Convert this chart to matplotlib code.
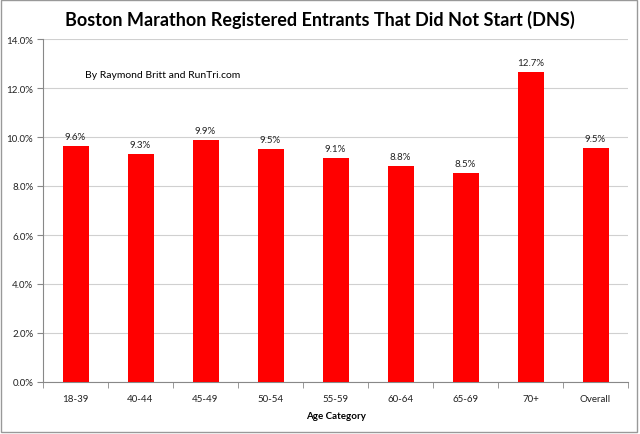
import matplotlib
matplotlib.use("Agg")
import matplotlib.pyplot as plt
from matplotlib.ticker import FuncFormatter, MultipleLocator, FixedLocator
from matplotlib.patches import Rectangle

categories = ["18-39", "40-44", "45-49", "50-54", "55-59", "60-64", "65-69", "70+", "Overall"]
values = [9.63, 9.31, 9.88, 9.51, 9.13, 8.83, 8.53, 12.66, 9.55]
labels = ["9.6%", "9.3%", "9.9%", "9.5%", "9.1%", "8.8%", "8.5%", "12.7%", "9.5%"]

plt.rcParams['font.family'] = ['Lato', 'DejaVu Sans']

fig = plt.figure(figsize=(6.4, 4.35), dpi=100)
ax = fig.add_axes([43/640, 1-383/435, (628-43)/640, (383-40)/435])

x = list(range(len(categories)))
ax.bar(x, values, width=0.4, color="#FF0000", zorder=3)
for xi, v, lab in zip(x, values, labels):
    ax.text(xi, v + 0.2, lab, ha="center", va="bottom", fontsize=7, color="#222222")

ax.set_xlim(-0.5, len(categories) - 0.5)
ax.set_ylim(0, 14)
ax.yaxis.set_major_locator(MultipleLocator(2))
ax.yaxis.set_major_formatter(FuncFormatter(lambda v, p: f"{v:.1f}%"))
ax.set_xticks(x)
ax.set_xticklabels(categories)
ax.xaxis.set_minor_locator(FixedLocator([i - 0.5 for i in range(len(categories) + 1)]))
ax.tick_params(axis="x", which="major", length=0, labelsize=7, pad=9, colors="#222222")
ax.tick_params(axis="x", which="minor", length=4, color="#888888", direction="out")
ax.tick_params(axis="y", length=4, color="#888888", labelsize=7, colors="#222222", pad=3)
ax.grid(axis="y", color="#D0D0D0", linewidth=0.8, zorder=0)
for s in ["top", "right"]:
    ax.spines[s].set_visible(False)
for s in ["left", "bottom"]:
    ax.spines[s].set_color("#888888")
    ax.spines[s].set_linewidth(0.8)

ax.set_xlabel("Age Category", fontsize=7, fontweight="bold", labelpad=5.5)
fig.text(0.5, 1 - 20/435, "Boston Marathon Registered Entrants That Did Not Start (DNS)",
         ha="center", va="center", fontsize=13, fontweight="bold")
fig.text(85/640, 1 - 75/435, "By Raymond Britt and RunTri.com", ha="left", va="center", fontsize=7.5)

fig.patches.append(Rectangle((0.5/640, 1 - 432.5/435), 636/640, 432/435, transform=fig.transFigure,
                             fill=False, edgecolor="#999999", linewidth=1))

fig.savefig("out.png", dpi=100)
